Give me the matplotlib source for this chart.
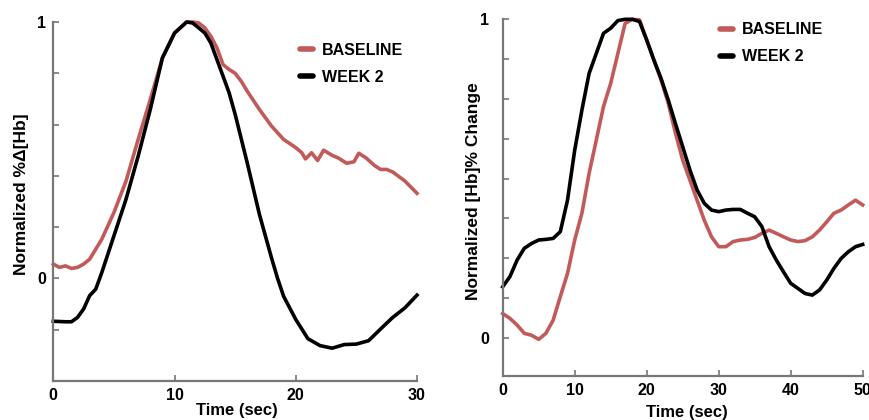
import numpy as np
import matplotlib
matplotlib.use('Agg')
import matplotlib.pyplot as plt

plt.rcParams['font.family'] = ['Liberation Sans', 'DejaVu Sans']
plt.rcParams['font.weight'] = 'bold'

RED = '#c25a5a'
GRAY = '#777777'

# Left panel: normalized %delta[Hb], 0-30 s
t_base_l = [0, 0.5, 1, 1.5, 2, 2.5, 3, 4, 5, 6, 7, 8, 9, 10, 11, 11.5, 12, 12.5, 13, 13.5,
            14, 14.5, 15, 15.5, 16, 17, 18, 19, 20, 20.5, 20.8, 21.3, 21.8, 22.3, 23, 23.5,
            24.2, 24.8, 25.2, 25.8, 26.5, 27, 27.5, 28, 29, 30]
base_l = [0.056, 0.043, 0.049, 0.039, 0.043, 0.056, 0.075, 0.153, 0.257, 0.38, 0.542, 0.698,
          0.86, 0.957, 1.0, 1.0, 0.996, 0.977, 0.944, 0.899, 0.834, 0.815, 0.80, 0.769, 0.73,
          0.659, 0.594, 0.542, 0.51, 0.49, 0.466, 0.49, 0.46, 0.50, 0.48, 0.47, 0.449, 0.455,
          0.488, 0.47, 0.44, 0.425, 0.425, 0.415, 0.38, 0.332]

t_wk2_l = [0, 1, 1.5, 2, 2.5, 3, 3.5, 4, 5, 6, 7, 8, 9, 10, 11, 11.5, 12, 12.5, 13, 13.5,
           14, 14.5, 15, 16, 17, 18, 18.5, 19, 20, 21, 22, 23, 24, 25, 26, 27, 28, 29, 30]
wk2_l = [-0.167, -0.169, -0.169, -0.152, -0.119, -0.067, -0.042, 0.023, 0.166, 0.309, 0.477,
         0.659, 0.86, 0.957, 1.0, 0.996, 0.977, 0.957, 0.918, 0.853, 0.789, 0.724, 0.64, 0.45,
         0.25, 0.08, 0.0, -0.07, -0.16, -0.235, -0.262, -0.272, -0.258, -0.256, -0.243, -0.197,
         -0.152, -0.115, -0.065]

# Right panel: normalized [Hb] % change, 0-50 s
t_r = list(range(0, 51))
base_r = [0.076, 0.061, 0.04, 0.014, 0.008, -0.005, 0.014, 0.055, 0.129, 0.202, 0.307, 0.391,
          0.516, 0.621, 0.726, 0.799, 0.893, 0.987, 1.0, 0.998, 0.935, 0.872, 0.809, 0.736,
          0.642, 0.558, 0.495, 0.432, 0.369, 0.317, 0.286, 0.286, 0.302, 0.307, 0.309, 0.315,
          0.328, 0.338, 0.328, 0.317, 0.307, 0.302, 0.305, 0.317, 0.338, 0.364, 0.391, 0.401,
          0.417, 0.432, 0.417]
wk2_r = [0.16, 0.192, 0.244, 0.281, 0.296, 0.307, 0.309, 0.312, 0.333, 0.432, 0.589, 0.715,
         0.83, 0.893, 0.956, 0.972, 0.996, 1.0, 1.0, 0.993, 0.935, 0.872, 0.814, 0.746, 0.672,
         0.6, 0.527, 0.464, 0.422, 0.401, 0.396, 0.401, 0.403, 0.403, 0.391, 0.38, 0.349, 0.286,
         0.244, 0.207, 0.171, 0.155, 0.139, 0.134, 0.15, 0.181, 0.218, 0.249, 0.27, 0.286, 0.293]

fig = plt.figure(figsize=(8.7, 4.2), dpi=100)
W, H = 870, 420


def make_ax(x0, x1, ytop, ybot):
    return fig.add_axes([x0 / W, 1 - ybot / H, (x1 - x0) / W, (ybot - ytop) / H])


def style(ax, xlim, ylim, yticks, ypad):
    ax.set_xlim(*xlim)
    ax.set_ylim(*ylim)
    for s in ['top', 'right']:
        ax.spines[s].set_visible(False)
    for s in ['left', 'bottom']:
        ax.spines[s].set_color(GRAY)
        ax.spines[s].set_linewidth(1.6)
    ax.set_yticks(yticks)
    ax.set_yticklabels(['1' if abs(v - 1) < 1e-9 else ('0' if abs(v) < 1e-9 else '') for v in yticks])
    ax.tick_params(direction='in', length=4, width=1.2, color=GRAY, labelsize=11.5)
    ax.tick_params(axis='x', pad=5)
    ax.tick_params(axis='y', pad=ypad)
    for lab in ax.get_xticklabels() + ax.get_yticklabels():
        lab.set_fontweight('bold')


def legend(ax, anchor):
    leg = ax.legend(loc='upper left', bbox_to_anchor=anchor, frameon=False, borderpad=0,
                    handlelength=0.8, handletextpad=0.6, labelspacing=0.75,
                    prop={'weight': 'bold', 'size': 11.5})
    for ln in leg.get_lines():
        ln.set_linewidth(4)
        ln.set_solid_capstyle('round')


# left panel
ax1 = make_ax(53.3, 417, 22, 381)
ax1.plot(t_base_l, base_l, color=RED, lw=2.6, label='BASELINE', clip_on=False)
ax1.plot(t_wk2_l, wk2_l, color='black', lw=2.6, label='WEEK 2', clip_on=False)
style(ax1, (0, 30), (-0.4, 1.0), np.round(np.arange(-0.2, 1.01, 0.2), 3), 5)
ax1.set_xticks([0, 10, 20, 30])
legend(ax1, (0.656, 0.964))

# right panel
ax2 = make_ax(502.7, 862.7, 19.3, 376)
ax2.plot(t_r, base_r, color=RED, lw=2.6, label='BASELINE', clip_on=False)
ax2.plot(t_r, wk2_r, color='black', lw=2.6, label='WEEK 2', clip_on=False)
style(ax2, (0, 50), (-0.12, 1.0), np.arange(0, 1.01, 0.125), 10)
ax2.set_xticks([0, 10, 20, 30, 40, 50])
legend(ax2, (0.581, 1.014))

fig.text(21.5 / W, 1 - 194 / H, 'Normalized %\u0394[Hb]', rotation=90, ha='center', va='center',
         fontsize=12.5, fontweight='bold')
fig.text(473.5 / W, 1 - 191 / H, 'Normalized [Hb]% Change', rotation=90, ha='center', va='center',
         fontsize=12.5, fontweight='bold')
fig.text(236.5 / W, 1 - 411 / H, 'Time (sec)', ha='center', va='center', fontsize=12, fontweight='bold')
fig.text(687 / W, 1 - 412 / H, 'Time (sec)', ha='center', va='center', fontsize=12, fontweight='bold')

fig.savefig('out.png', dpi=100)
